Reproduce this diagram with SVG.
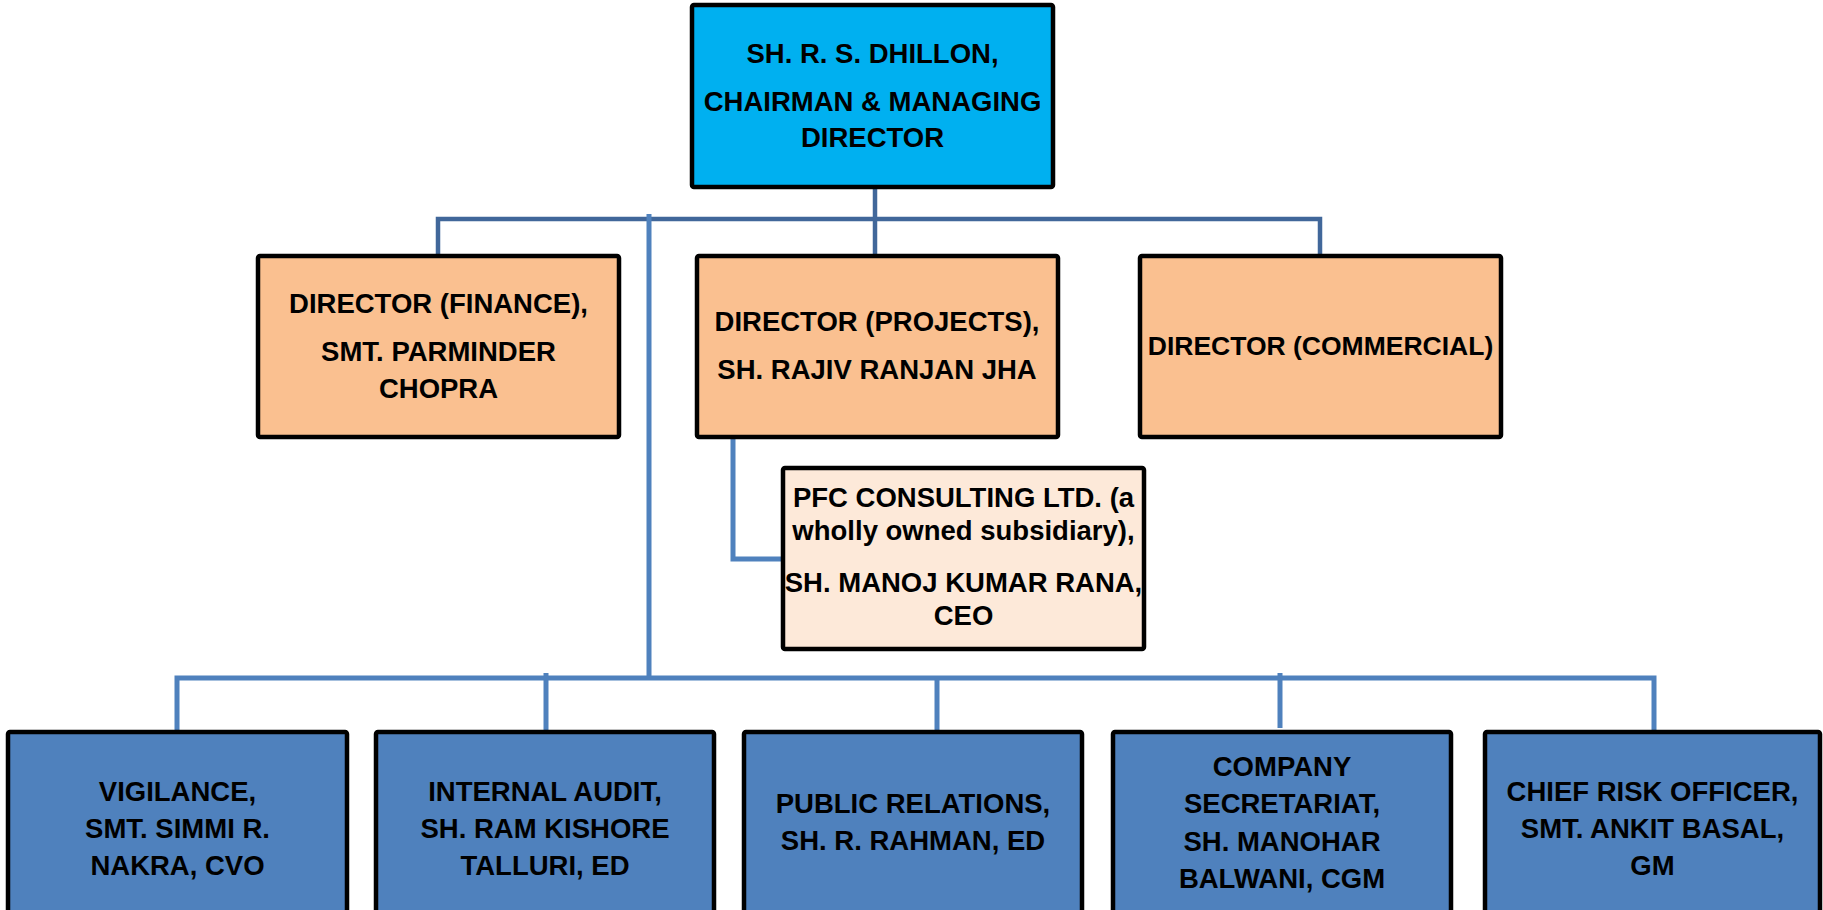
<svg xmlns="http://www.w3.org/2000/svg" width="1823" height="910" viewBox="0 0 1823 910">
  <style>
    .box { stroke: #000000; stroke-width: 4.5; }
    .top { fill: #00B0F0; }
    .dir { fill: #FAC090; }
    .sub { fill: #FDE9D9; }
    .dept { fill: #4F81BD; }
    .t { font-family: "Liberation Sans", Arial, sans-serif; font-weight: bold; font-size: 27.5px; fill: #000000; text-anchor: middle; }
    .c1 { fill: none; stroke: #41679A; stroke-width: 4.5; }
    .c2 { fill: none; stroke: #4F81BD; stroke-width: 5; }
  </style>
  <rect x="0" y="0" width="1823" height="910" fill="#FFFFFF"/>

  <g id="connectors">
    <path class="c1" d="M875 187 V256"/>
    <path class="c1" d="M438 256 V219 H1320 V256"/>
    <path class="c2" d="M649 214 V678"/>
    <path class="c2" d="M733 437 V559 H783"/>
    <path class="c2" d="M177 732 V678 H1654 V732"/>
    <path class="c2" d="M546 673 V732"/>
    <path class="c2" d="M937 678 V732"/>
    <path class="c2" d="M1280 673 V728"/>
  </g>

  <g id="cmd">
    <rect class="box top" x="692" y="5" width="361" height="182" rx="2"/>
    <text class="t" x="872.5" y="63">SH. R. S. DHILLON,</text>
    <text class="t" x="872.5" y="111">CHAIRMAN &amp; MANAGING</text>
    <text class="t" x="872.5" y="147">DIRECTOR</text>
  </g>

  <g id="dir-finance">
    <rect class="box dir" x="258" y="256" width="361" height="181" rx="2"/>
    <text class="t" x="438.5" y="313">DIRECTOR (FINANCE),</text>
    <text class="t" x="438.5" y="361">SMT. PARMINDER</text>
    <text class="t" x="438.5" y="398">CHOPRA</text>
  </g>

  <g id="dir-projects">
    <rect class="box dir" x="697" y="256" width="361" height="181" rx="2"/>
    <text class="t" x="877" y="331">DIRECTOR (PROJECTS),</text>
    <text class="t" x="877" y="379">SH. RAJIV RANJAN JHA</text>
  </g>

  <g id="dir-commercial">
    <rect class="box dir" x="1140" y="256" width="361" height="181" rx="2"/>
    <text class="t" x="1320.5" y="355" style="font-size:26.5px">DIRECTOR (COMMERCIAL)</text>
  </g>

  <g id="pfc-consulting">
    <rect class="box sub" x="783" y="468" width="361" height="181" rx="2"/>
    <text class="t" x="963.5" y="507">PFC CONSULTING LTD. (a</text>
    <text class="t" x="963.5" y="540">wholly owned subsidiary),</text>
    <text class="t" x="963.5" y="592">SH. MANOJ KUMAR RANA,</text>
    <text class="t" x="963.5" y="625">CEO</text>
  </g>

  <g id="vigilance">
    <rect class="box dept" x="8" y="732" width="339" height="200" rx="2"/>
    <text class="t" x="177.5" y="801">VIGILANCE,</text>
    <text class="t" x="177.5" y="838">SMT. SIMMI R.</text>
    <text class="t" x="177.5" y="875">NAKRA, CVO</text>
  </g>

  <g id="internal-audit">
    <rect class="box dept" x="376" y="732" width="338" height="200" rx="2"/>
    <text class="t" x="545" y="801">INTERNAL AUDIT,</text>
    <text class="t" x="545" y="838">SH. RAM KISHORE</text>
    <text class="t" x="545" y="875">TALLURI, ED</text>
  </g>

  <g id="public-relations">
    <rect class="box dept" x="744" y="732" width="338" height="200" rx="2"/>
    <text class="t" x="913" y="813">PUBLIC RELATIONS,</text>
    <text class="t" x="913" y="850">SH. R. RAHMAN, ED</text>
  </g>

  <g id="company-secretariat">
    <rect class="box dept" x="1113" y="732" width="338" height="200" rx="2"/>
    <text class="t" x="1282" y="776">COMPANY</text>
    <text class="t" x="1282" y="813">SECRETARIAT,</text>
    <text class="t" x="1282" y="851">SH. MANOHAR</text>
    <text class="t" x="1282" y="888">BALWANI, CGM</text>
  </g>

  <g id="chief-risk-officer">
    <rect class="box dept" x="1485" y="732" width="335" height="200" rx="2"/>
    <text class="t" x="1652.5" y="801">CHIEF RISK OFFICER,</text>
    <text class="t" x="1652.5" y="838">SMT. ANKIT BASAL,</text>
    <text class="t" x="1652.5" y="875">GM</text>
  </g>
</svg>
